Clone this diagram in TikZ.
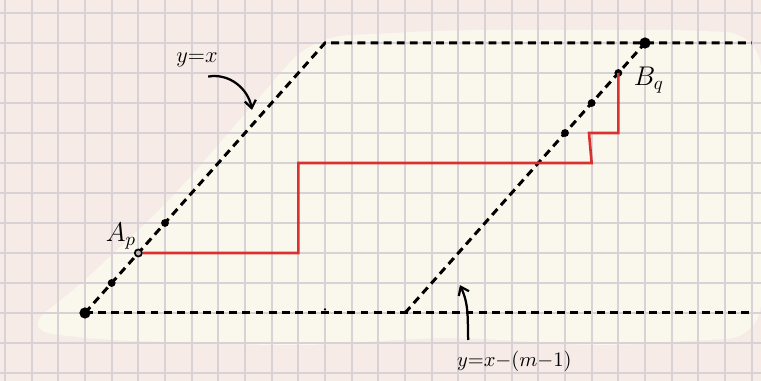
\documentclass[tikz,border=0pt]{standalone}
\usepackage{amsmath,amssymb}
\usepackage{xcolor}
\usepackage{tikz}
\usetikzlibrary{arrows.meta, positioning, calc}
\definecolor{paperpink}{HTML}{F6EBE6}
\definecolor{papercream}{HTML}{FAF7EC}
\definecolor{gridgray}{HTML}{D8D1D6}
\definecolor{pathred}{HTML}{D8312F}
\tikzset{
  gridln/.style  = {draw=gridgray, line width=1pt},
  guide/.style   = {draw=black, line width=1.6pt, dash pattern=on 4.2pt off 2.8pt},
  lattice/.style = {draw=pathred, line width=1.4pt, line join=miter},
  bigdot/.style  = {circle, fill=black, inner sep=0pt, minimum size=6pt},
  smalldot/.style= {circle, fill=black, inner sep=0pt, minimum size=4.2pt},
  opendot/.style = {circle, draw=black, fill=gray!60, line width=0.9pt, inner sep=0pt, minimum size=3.8pt},
  speck/.style   = {circle, fill=black, inner sep=0pt, minimum size=1.4pt},
  pointer/.style = {-{Straight Barb[length=4pt, width=6pt]}, line width=1.2pt, draw=black},
  lbl/.style     = {font=\large, text=black, inner sep=1pt}
}
\begin{document}
\begin{tikzpicture}[x=0.5cm, y=0.5625cm]
  \useasboundingbox (-3.1875,-2.267) rectangle (25.35,10.433);
  % paper
  \fill[paperpink] (-3.1875,-2.267) rectangle (25.35,10.433);
  \fill[papercream, rounded corners=18pt]
    (-2.44,-0.57) -- (-0.6,0.6) -- (3.2,3.77) -- (8.5,9.2) -- (13.69,9.43)
    -- (23.06,9.43) -- (25.35,9.27) -- (25.35,-0.8) -- (19.31,-1.1)
    -- (13.69,-0.8) -- (8.06,-1.1) -- (0.56,-0.9) -- cycle;
  \foreach \i in {-3,...,25} \draw[gridln] (\i,-2.267) -- (\i,10.433);
  \foreach \j in {-2,...,10} \draw[gridln] (-3.1875,\j) -- (25.35,\j);

  % corners of the strip
  \coordinate (O)  at (0,0);
  \coordinate (T)  at (9,9);
  \coordinate (TR) at (25,9);
  \coordinate (BR) at (24.9,0);
  \coordinate (S)  at (12,0);
  \coordinate (E)  at (21,9);

  \draw[guide] (O) -- (T) -- (TR);
  \draw[guide] (O) -- (BR);
  \draw[guide] (S) -- (E);

  % points on the diagonals
  \node[bigdot]   (d0) at (O) {};
  \node[smalldot] (d1) at (1,1) {};
  \node[opendot]  (ap) at (2,2) {};
  \node[smalldot] (d3) at (3,3) {};
  \node[smalldot] (e6) at (18,6) {};
  \node[smalldot] (e7) at (19,7) {};
  \node[smalldot] (bq) at (20,8) {};
  \node[bigdot]   (e9) at (E) {};
  \node[speck]    (sp) at (9,0.12) {};

  % lattice path
  \draw[lattice] (ap.east) -- (8,2) -- (8,5) -- (19,5) -- (18.9,6) -- (20,6) -- (bq.center);

  % labels
  \node[lbl] (lx)  at (4.2,8.45) {$y{=}x$};
  \node[lbl, font=\Large] (lap) at (1.35,2.55) {$A_p$};
  \node[lbl, font=\Large, anchor=west] (lbq) at (20.5,7.75) {$B_q$};
  \node[lbl, font=\fontsize{11}{13}\selectfont] (lm) at (16.1,-1.6) {$y{=}x{-}(m{-}1)$};
  \coordinate (tipx) at (6.26,6.77);
  \coordinate (tipm) at (14.06,0.93);
  \draw[pointer] (4.62,7.88) to[out=10, in=100] (tipx);
  \draw[pointer] (14.37,-0.9) to[out=92, in=-65] (tipm);
\end{tikzpicture}
\end{document}
